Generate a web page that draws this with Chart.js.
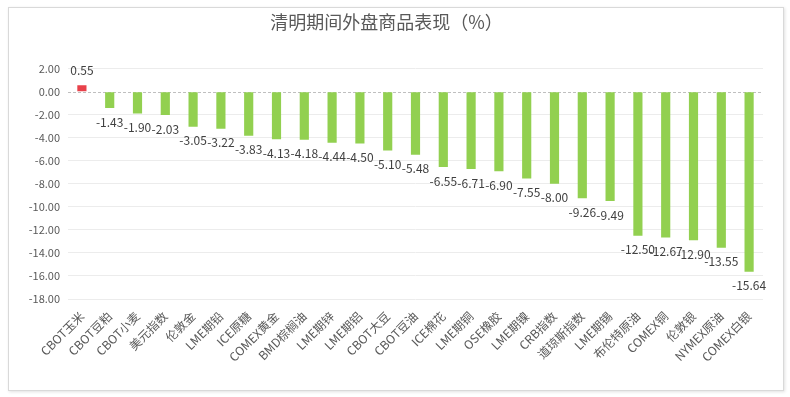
<!DOCTYPE html>
<html>
<head>
<meta charset="utf-8">
<script src="https://cdn.jsdelivr.net/npm/chart.js@4/dist/chart.umd.min.js"></script>
<style>
  html, body { margin: 0; padding: 0; background: #fff; }
  #wrap { position: relative; width: 790px; height: 397px; }
  #frame {
    position: absolute; left: 8px; top: 7px; width: 774px; height: 382px;
    border: 1px solid #d9d9d9; box-shadow: 1px 1px 3px rgba(0,0,0,0.12);
    pointer-events: none;
  }
  canvas { position: absolute; left: 0; top: 0; }
</style>
</head>
<body>
<div id="wrap">
  <div id="frame"></div>
  <canvas id="chart" width="790" height="397"></canvas>
</div>
<script>

    const categories = [
        "CBOT玉米", "CBOT豆粕", "CBOT小麦", "美元指数", "伦敦金", "LME期铅", "ICE原糖",
        "COMEX黄金", "BMD棕榈油", "LME期锌", "LME期铝", "CBOT大豆", "CBOT豆油", "ICE棉花",
        "LME期铜", "OSE橡胶", "LME期镍", "CRB指数", "道琼斯指数", "LME期锡", "布伦特原油",
        "COMEX铜", "伦敦银", "NYMEX原油", "COMEX白银"
    ];

    const changes = [
        0.55, -1.43, -1.90, -2.03, -3.05, -3.22, -3.83, -4.13, -4.18, -4.44, -4.50, -5.10,
        -5.48, -6.55, -6.71, -6.90, -7.55, -8.00, -9.26, -9.49, -12.50, -12.67, -12.90,
        -13.55, -15.64
    ];

    const yTicks = [2, 0, -2, -4, -6, -8, -10, -12, -14, -16, -18];

    const chartColors = {
        up:    "#E8414A",
        down:  "#92D050",
        text:  "#595959",
        label: "#404040",
        grid:  "#ececec",
        zero:  "#bfbfbf"
    };

    const fontFamily = '"Noto Sans CJK SC", "Noto Sans", sans-serif';

    // value labels under / above each bar
    const valueLabels = {
        id: "valueLabels",
        afterDatasetsDraw(chart) {
            const ctx = chart.ctx;
            const meta = chart.getDatasetMeta(0);
            ctx.save();
            ctx.font = "12px " + fontFamily;
            ctx.fillStyle = chartColors.label;
            ctx.textAlign = "center";
            ctx.textBaseline = "middle";
            meta.data.forEach(function (bar, i) {
                let v = changes[i];
                let y = v >= 0 ? bar.y - 15 : bar.y + 14;
                ctx.fillText(v.toFixed(2), bar.x, y);
            });
            ctx.restore();
        }
    };

    // dashed zero line
    const zeroLine = {
        id: "zeroLine",
        beforeDatasetsDraw(chart) {
            const ctx = chart.ctx;
            const area = chart.chartArea;
            const y = Math.round(chart.scales.y.getPixelForValue(0)) + 0.5;
            ctx.save();
            ctx.strokeStyle = chartColors.zero;
            ctx.lineWidth = 1;
            ctx.setLineDash([3, 2]);
            ctx.beginPath();
            ctx.moveTo(area.left, y);
            ctx.lineTo(area.right, y);
            ctx.stroke();
            ctx.restore();
        }
    };

    new Chart(document.getElementById("chart"), {
        type: "bar",
        data: {
            labels: categories,
            datasets: [{
                data: changes,
                backgroundColor: changes.map(v => v >= 0 ? chartColors.up : chartColors.down),
                borderWidth: 0,
                barPercentage: 0.33,
                categoryPercentage: 1
            }]
        },
        options: {
            responsive: false,
            animation: false,
            layout: { padding: { left: 10, right: 27, top: 0, bottom: 0 } },
            plugins: {
                legend: { display: false },
                tooltip: { enabled: false },
                title: {
                    display: true,
                    text: "清明期间外盘商品表现（%）",
                    color: chartColors.text,
                    font: { family: fontFamily, size: 18, weight: "normal" },
                    padding: { top: 11, bottom: 36 }
                }
            },
            scales: {
                x: {
                    grid: { display: false },
                    border: { display: false },
                    ticks: {
                        color: chartColors.text,
                        font: { family: fontFamily, size: 12 },
                        minRotation: 45,
                        maxRotation: 45,
                        autoSkip: false,
                        padding: 2
                    },
                    afterFit(scale) { scale.height = 98; }
                },
                y: {
                    min: -18,
                    max: 2,
                    border: { display: false },
                    grid: {
                        color: ctx => ctx.tick && ctx.tick.value === 0 ? "rgba(0,0,0,0)" : chartColors.grid,
                        drawTicks: false
                    },
                    ticks: {
                        stepSize: 2,
                        color: chartColors.text,
                        font: { family: fontFamily, size: 11 },
                        padding: 8,
                        callback: v => yTicks.includes(v) ? v.toFixed(2) : ""
                    },
                    afterFit(scale) { scale.width = 58; }
                }
            }
        },
        plugins: [zeroLine, valueLabels]
    });

</script>
</body>
</html>
